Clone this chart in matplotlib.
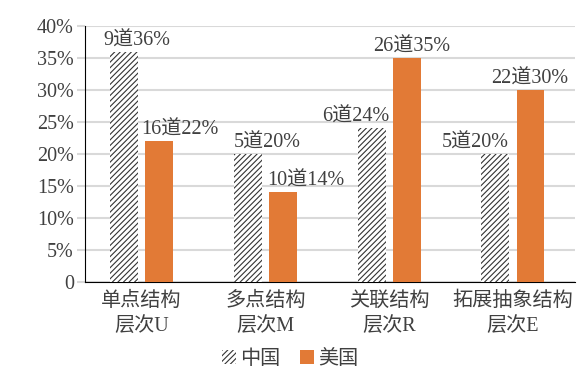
import matplotlib
matplotlib.use('Agg')
import matplotlib.pyplot as plt
import numpy as np
from matplotlib.ticker import FuncFormatter

plt.rcParams['font.family'] = ['Liberation Serif', 'Noto Sans CJK SC']
plt.rcParams['hatch.linewidth'] = 0.8

# --- 데이터 ---
categories = ['单点结构\n层次U', '多点结构\n层次M', '关联结构\n层次R', '拓展抽象结构\n层次E']
china_pct = [36, 20, 24, 20]
china_cnt = [9, 5, 6, 5]
usa_pct = [22, 14, 35, 30]
usa_cnt = [16, 10, 26, 22]
series_names = ['中国', '美国']

# 라벨 수평 위치 보정 (px)
china_dx = [13, 19, -16, -20]
usa_dx = [21, 23, 5, -1]

orange = '#E27A36'
grid_c = '#D9D9D9'
txt_c = '#404040'
fs = 14.5

fig = plt.figure(figsize=(5.86, 3.78), dpi=100)
ax = fig.add_axes([0.145, 0.254, 0.836, 0.677])

x = np.arange(len(categories))
w = 0.225
off = 0.142

b1 = ax.bar(x - off, china_pct, w, facecolor='white', edgecolor='#333333',
            linewidth=0, hatch='//////', label=series_names[0], zorder=3)
b2 = ax.bar(x + off, usa_pct, w, color=orange, label=series_names[1], zorder=3)

for i in range(len(x)):
    ax.annotate(f'{china_cnt[i]}道{china_pct[i]}%', (x[i] - off, china_pct[i]),
                xytext=(china_dx[i] * 0.72, 1.0), textcoords='offset points',
                ha='center', va='bottom', fontsize=fs, color=txt_c)
    ax.annotate(f'{usa_cnt[i]}道{usa_pct[i]}%', (x[i] + off, usa_pct[i]),
                xytext=(usa_dx[i] * 0.72, 1.0), textcoords='offset points',
                ha='center', va='bottom', fontsize=fs, color=txt_c)

ax.set_ylim(0, 40)
ax.set_xlim(-0.457, 3.5)
ax.set_yticks(range(0, 41, 5))
ax.yaxis.set_major_formatter(FuncFormatter(lambda v, p: '0' if v == 0 else f'{int(v)}%'))
ax.yaxis.grid(True, color=grid_c, linewidth=1.5, zorder=0)
ax.set_axisbelow(True)

ax.set_xticks(x)
ax.set_xticklabels(categories, fontsize=fs, color=txt_c, linespacing=1.5)
ax.tick_params(axis='x', length=0, pad=7)
ax.tick_params(axis='y', length=6, color=grid_c, width=1.5, labelsize=fs,
               labelcolor=txt_c, pad=2)

for s in ['top', 'right']:
    ax.spines[s].set_visible(False)
ax.spines['left'].set_color('black')
ax.spines['bottom'].set_color('black')

fig.legend(handles=[b1, b2], loc='center', bbox_to_anchor=(0.495, 0.05), ncol=2,
           frameon=False, fontsize=fs, handlelength=0.7, handleheight=0.7,
           handletextpad=0.2, columnspacing=1.0, labelcolor=txt_c)

fig.savefig('out.png', dpi=100)
